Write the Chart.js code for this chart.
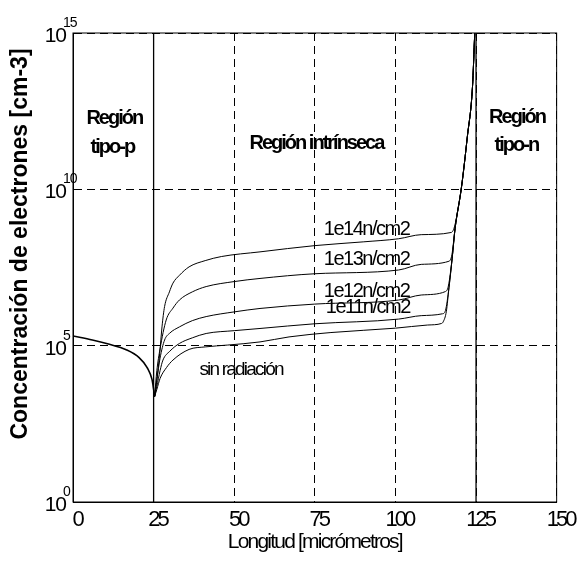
<!DOCTYPE html>
<html>
<head>
<meta charset="utf-8">
<script src="https://cdn.jsdelivr.net/npm/chart.js@4.4.1/dist/chart.umd.min.js"></script>
<style>
  html, body { margin: 0; padding: 0; background: #fff; }
  #wrap { width: 580px; height: 564px; }
</style>
</head>
<body>
<div id="wrap"><canvas id="perfil" width="580" height="564"></canvas></div>
<script>
// ticks
const xTicks = [0, 25, 50, 75, 100, 125, 150];
const yTicks = [1, 1e5, 1e10, 1e15];
// fronteras de las regiones (lineas verticales continuas)
const fronteras = [25, 125];

// region tipo-p, comun a todas las curvas (exponentes de 10)
const pX   = [0, 6, 11, 16.5, 20.5, 23, 24.5, 25, 25.3];
const pExp = [5.31, 5.18, 5.05, 4.87, 4.62, 4.3, 3.92, 3.6, 3.37];

// sin radiacion
const sinX   = [25.3, 26, 27, 29, 31, 36, 41, 48, 58, 67, 80, 100, 110, 114.3, 114.8, 115.8, 116.6, 117.6, 118.5, 120.5, 122.3, 123.9, 124.6];
const sinExp = [3.37, 3.6, 3.95, 4.3, 4.54, 4.88, 4.96, 5.02, 5.12, 5.28, 5.42, 5.56, 5.66, 5.71, 5.76, 6.1, 6.85, 7.8, 8.75, 10.08, 11.68, 13.28, 15];

// 1e11 n/cm2
const e11X   = [25.3, 26, 27, 27.9, 30, 33, 37, 41.3, 50, 58, 75, 101, 108, 114.6, 115.5, 116.6, 117.6, 118.5, 120.5, 122.3, 123.9, 124.6];
const e11Exp = [3.37, 3.7, 4.2, 4.54, 4.82, 5.07, 5.25, 5.39, 5.48, 5.55, 5.7, 5.85, 5.96, 6.02, 6.12, 6.85, 7.8, 8.75, 10.08, 11.68, 13.28, 15];

// 1e12 n/cm2
const e12X   = [25.3, 26, 27, 28.4, 30, 33, 37, 41.3, 50, 58, 75, 101, 108, 115.5, 116.4, 117.6, 118.5, 120.5, 122.3, 123.9, 124.6];
const e12Exp = [3.37, 3.9, 4.6, 5.18, 5.4, 5.6, 5.8, 5.93, 6.08, 6.19, 6.33, 6.46, 6.62, 6.73, 6.9, 7.8, 8.75, 10.08, 11.68, 13.28, 15];

// 1e13 n/cm2
const e13X   = [25.3, 26, 27, 28.9, 31, 33, 37, 41.3, 50, 58, 75, 101, 108, 116.6, 117.5, 118.5, 120.5, 122.3, 123.9, 124.6];
const e13Exp = [3.37, 4.2, 4.9, 5.82, 6.2, 6.46, 6.72, 6.89, 7.05, 7.15, 7.3, 7.42, 7.6, 7.7, 7.9, 8.75, 10.08, 11.68, 13.28, 15];

// 1e14 n/cm2
const e14X   = [25.3, 26, 26.9, 27.6, 28.4, 29.9, 31, 33, 36, 41, 46, 58, 75, 90, 101, 108, 117.3, 118.3, 120.5, 122.3, 123.9, 124.6];
const e14Exp = [3.37, 3.9, 4.76, 5.6, 6.25, 6.72, 7.0, 7.25, 7.52, 7.72, 7.85, 8.0, 8.2, 8.32, 8.42, 8.55, 8.62, 8.8, 10.08, 11.68, 13.28, 15];

// textos sobre la grafica: [texto, x, exponente, alineacion, fuente, espaciado]
const notas = [
  ['Región', 12.8, 12.09, 'center', 'bold 20px "Liberation Sans"', -2],
  ['tipo-p', 12.2, 11.16, 'center', 'bold 20px "Liberation Sans"', -2],
  ['Región intrínseca', 75.5, 11.29, 'center', 'bold 20px "Liberation Sans"', -2],
  ['Región', 137.7, 12.12, 'center', 'bold 20px "Liberation Sans"', -2],
  ['tipo-n', 137.5, 11.22, 'center', 'bold 20px "Liberation Sans"', -2],
  ['1e14n/cm2', 77.8, 8.54, 'left', '20px "Liberation Sans"', -1.5],
  ['1e13n/cm2', 77.8, 7.58, 'left', '20px "Liberation Sans"', -1.5],
  ['1e12n/cm2', 77.8, 6.56, 'left', '20px "Liberation Sans"', -1.5],
  ['1e11n/cm2', 78.4, 6.04, 'left', '20px "Liberation Sans"', -1.5],
  ['sin radiación', 39.2, 4.06, 'left', '19px "Liberation Sans"', -1.8]
];

function curva(xs, exps, ancho) {
  return {
    data: xs.map((x, i) => ({x: x, y: Math.pow(10, exps[i])})),
    borderColor: '#000',
    borderWidth: ancho,
    pointRadius: 0,
    fill: false,
    cubicInterpolationMode: 'monotone'
  };
}

const datasets = [
  curva(pX, pExp, 1.6),
  curva(sinX, sinExp, 1),
  curva(e11X, e11Exp, 1),
  curva(e12X, e12Exp, 1),
  curva(e13X, e13Exp, 1),
  curva(e14X, e14Exp, 1)
];
for (const f of fronteras) {
  datasets.push({
    data: [{x: f, y: yTicks[0]}, {x: f, y: yTicks[yTicks.length - 1]}],
    borderColor: '#000',
    borderWidth: 1.3,
    pointRadius: 0,
    fill: false
  });
}

const textos = {
  id: 'textos',
  beforeDraw(chart) {
    // numeros del eje x muy juntos, como en el original
    chart.ctx.letterSpacing = '-3px';
  },
  afterDraw(chart) {
    const ctx = chart.ctx;
    const a = chart.chartArea;
    const sx = chart.scales.x, sy = chart.scales.y;
    ctx.save();
    ctx.letterSpacing = '0px';
    ctx.strokeStyle = '#000';
    ctx.lineWidth = 1;
    ctx.strokeRect(a.left, a.top, a.right - a.left, a.bottom - a.top);

    ctx.fillStyle = '#000';
    // etiquetas 10^n del eje y
    for (const v of yTicks) {
      const py = sy.getPixelForValue(v);
      ctx.textAlign = 'right';
      ctx.textBaseline = 'alphabetic';
      ctx.font = '21px "Liberation Sans"';
      ctx.letterSpacing = '-1px';
      ctx.fillText('10', 66, py + 9);
      ctx.textAlign = 'left';
      ctx.font = '14px "Liberation Sans"';
      ctx.fillText(String(Math.round(Math.log10(v))), 63, py - 6);
    }

    // notas
    for (const n of notas) {
      ctx.font = n[4];
      ctx.letterSpacing = n[5] + 'px';
      ctx.textAlign = n[3];
      ctx.fillText(n[0], sx.getPixelForValue(n[1]), sy.getPixelForValue(Math.pow(10, n[2])));
    }

    // titulos de ejes
    ctx.font = '21px "Liberation Sans"';
    ctx.letterSpacing = '-1.8px';
    ctx.textAlign = 'center';
    ctx.textBaseline = 'middle';
    ctx.fillText('Longitud [micrómetros]', (a.left + a.right) / 2, 542);

    ctx.save();
    ctx.translate(21, 244);
    ctx.rotate(-Math.PI / 2);
    ctx.font = 'bold 23px "Liberation Sans"';
    ctx.letterSpacing = '0px';
    ctx.fillText('Concentración de electrones [cm-3]', 0, 0);
    ctx.restore();

    ctx.restore();
    ctx.letterSpacing = '0px';
  }
};

new Chart(document.getElementById('perfil').getContext('2d'), {
  type: 'line',
  data: { datasets: datasets },
  options: {
    responsive: false,
    animation: false,
    devicePixelRatio: 1,
    layout: { padding: { left: 0, right: 21, top: 33, bottom: 0 } },
    plugins: {
      legend: { display: false },
      tooltip: { enabled: false },
      title: { display: false }
    },
    scales: {
      x: {
        type: 'linear',
        min: 0,
        max: 150,
        afterBuildTicks: s => { s.ticks = xTicks.map(v => ({value: v})); },
        afterFit: s => { s.height = 62; },
        ticks: {
          color: '#000',
          padding: 5,
          labelOffset: 4,
          autoSkip: false,
          maxRotation: 0,
          font: { family: 'Liberation Sans', size: 22 }
        },
        grid: { color: '#000', lineWidth: 1, drawTicks: false },
        border: { display: true, color: '#000', width: 1, dash: [8, 5] }
      },
      y: {
        type: 'logarithmic',
        min: yTicks[0],
        max: yTicks[yTicks.length - 1],
        afterBuildTicks: s => { s.ticks = yTicks.map(v => ({value: v})); },
        afterFit: s => { s.width = 73; },
        ticks: { display: false },
        grid: { color: '#000', lineWidth: 1, drawTicks: false },
        border: { display: true, color: '#000', width: 1, dash: [8, 5] }
      }
    }
  },
  plugins: [textos]
});
</script>
</body>
</html>
